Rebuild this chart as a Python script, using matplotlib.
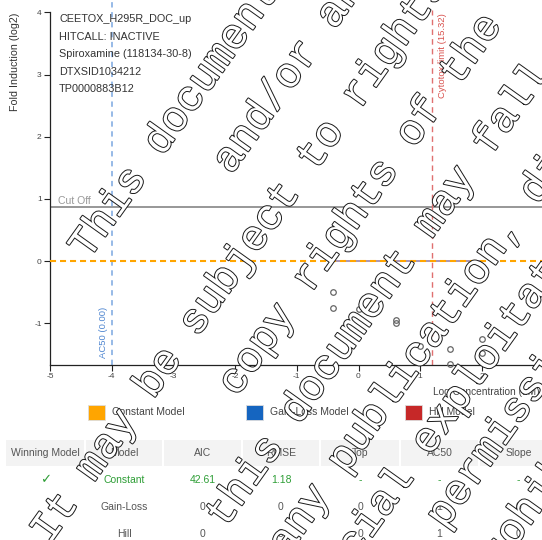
import matplotlib
matplotlib.use("Agg")
import matplotlib.pyplot as plt
import matplotlib.patheffects as pe
from matplotlib.patches import Rectangle
import numpy as np

W, H = 542, 540

# ---------------- data ----------------
log_conc = [-0.41, -0.41, 0.0, 0.60, 0.60, 1.0, 1.48, 1.48, 2.0, 2.0]
response = [-0.49, -0.76, -0.775, -0.94, -1.0, -1.36, -1.42, -1.66, -1.26, -1.48]
cutoff = 0.87
constant_level = 0.0
ac50_log = -4.0
ac50_label = "AC50 (0.00)"
cytotox_um = 15.32
cytotox_label = "Cytotox limit (15.32)"
xticks = [-5, -4, -3, -2, -1, 0, 1, 2]
yticks = [-1, 0, 1, 2, 3, 4]
info_lines = ["CEETOX_H295R_DOC_up", "HITCALL: INACTIVE",
              "Spiroxamine (118134-30-8)", "DTXSID1034212", "TP0000883B12"]
legend_labels = ["Constant Model", "Gain-Loss Model", "Hill Model"]
legend_colors = ["#FFA500", "#1565C0", "#C62828"]
table_header = ["Winning Model", "Model", "AIC", "RMSE", "Top", "AC50", "Slope"]
table_rows = [["\u2713", "Constant", "42.61", "1.18", "-", "-", "-"],
              ["", "Gain-Loss", "0", "0", "0", "1", "0"],
              ["", "Hill", "0", "0", "0", "1", "0"]]
winning_row = 0
watermark_lines = [
    "This document is the property of Bayer AG",
    "and/or any of its affiliates.",
    "It may be subject to rights such as intellectual property and",
    "copy rights of the owner and third parties.",
    "Furthermore, this document may fall under a regulatory data protection regime.",
    "Consequently, any publication, distribution, reproduction and/or publishing and",
    "any commercial exploitation and use of this document or its contents",
    "without the permission of the owner of this document may therefore",
    "be prohibited and violate the rights of its owner.",
]

plt.rcParams["font.family"] = ["Liberation Sans", "DejaVu Sans"]

fig = plt.figure(figsize=(W / 100, H / 100), dpi=100)
fig.patch.set_facecolor("white")


def fx(px):
    return px / W


def fy(py):
    return 1 - py / H


# ---------------- chart ----------------
ax = fig.add_axes([fx(50), fy(365), (543.6 - 50) / W, 352.7 / H])
ax.set_xlim(-5, 3)
ax.set_ylim(-1.67, 4)
for s in ["top", "right"]:
    ax.spines[s].set_visible(False)
for s in ["left", "bottom"]:
    ax.spines[s].set_color("#222222")
    ax.spines[s].set_linewidth(0.9)
ax.set_xticks(xticks)
ax.set_yticks(yticks)
ax.set_xticklabels([str(t) for t in xticks])
ax.set_yticklabels([str(t) for t in yticks])
ax.tick_params(axis="both", direction="out", length=4.2, width=0.8,
               color="#222222", labelsize=6, labelcolor="#444444")
ax.tick_params(axis="y", pad=1.8)
ax.tick_params(axis="x", pad=1.5)

# cut off
ax.axhline(cutoff, color="#7a7a7a", lw=1.1, zorder=2)
ax.text(-4.87, cutoff + 0.02, "Cut Off", color="#999999", fontsize=7.6,
        va="bottom", ha="left")

# model curves at zero over data range
cmin, cmax = min(log_conc), max(log_conc)
ax.plot([cmin, cmax], [0, 0], color=legend_colors[2], lw=1.2, alpha=0.45, zorder=2)
ax.plot([cmin, cmax], [0, 0], color=legend_colors[1], lw=1.2, alpha=0.35, zorder=2)
# constant model
ax.axhline(constant_level, color="#FFA500", lw=1.5, ls=(0, (2.9, 1.9)), zorder=3)

# ac50 line
ax.plot([ac50_log, ac50_log], [-1.67, 4.2], color="#7BA7E0", lw=1.1,
        ls=(0, (3.5, 3)), clip_on=False, zorder=2)
ax.text(ac50_log - 0.135, -1.56, ac50_label, rotation=90, color="#4F86D0",
        fontsize=6.8, ha="center", va="bottom")
# cytotox line
cx = np.log10(cytotox_um)
ax.plot([cx, cx], [-1.67, 4.03], color="#E07070", lw=1.0,
        ls=(0, (4, 3)), clip_on=False, zorder=2)
ax.text(cx + 0.17, 3.99, cytotox_label, rotation=90, color="#D9534F",
        fontsize=6.8, ha="center", va="top")

# data points
ax.plot(log_conc, response, "o", ms=4.0, mfc="none", mec="#666666", mew=0.9,
        zorder=4, clip_on=False)

# info text
for i, line in enumerate(info_lines):
    fig.text(fx(59), fy(19.3 + 17.5 * i), line, fontsize=7.8, color="#333333",
             ha="left", va="center")

# axis labels
fig.text(fx(15), fy(61.5), "Fold Induction (log2)", rotation=90, fontsize=7.7,
         color="#333333", ha="center", va="center")
fig.text(fx(433), fy(392), "Log Concentration (uM)", fontsize=7.3,
         color="#444444", ha="left", va="center")

# ---------------- legend ----------------
leg_x = [88, 246, 405]
for x0, lab, col in zip(leg_x, legend_labels, legend_colors):
    fig.patches.append(Rectangle((fx(x0), fy(419.5)), 16.5 / W, 15 / H,
                                 transform=fig.transFigure, facecolor=col,
                                 edgecolor="#dddddd", lw=0.6))
    fig.text(fx(x0 + 24), fy(412), lab, fontsize=7.5, color="#444444",
             ha="left", va="center")

# ---------------- table ----------------
col_edges = [6, 85, 163, 242, 320, 400, 479, 558]
fig.patches.append(Rectangle((fx(6), fy(466)), (542 - 6) / W, 26 / H,
                             transform=fig.transFigure, facecolor="#f3f3f3",
                             edgecolor="none"))
for e in col_edges[1:-1]:
    fig.patches.append(Rectangle((fx(e - 1), fy(466)), 2 / W, 26 / H,
                                 transform=fig.transFigure, facecolor="white",
                                 edgecolor="none"))
centers = [(a + b) / 2 for a, b in zip(col_edges[:-1], col_edges[1:])]
for c, h in zip(centers, table_header):
    fig.text(fx(c), fy(453), h, fontsize=7.5, color="#555555",
             ha="center", va="center")
row_y = [480, 507.5, 534.3]
for r, (ry, row) in enumerate(zip(row_y, table_rows)):
    color = "#2E9E36" if r == winning_row else "#555555"
    for c, val in zip(centers, row):
        if not val:
            continue
        if val == "\u2713":
            fig.text(fx(c), fy(ry), val, fontsize=9.5, color=color,
                     ha="center", va="center", family=["DejaVu Sans"])
        else:
            fig.text(fx(c), fy(ry), val, fontsize=7.5, color=color,
                     ha="center", va="center")

# ---------------- watermark ----------------
theta = np.deg2rad(54.5)
uvec = np.array([np.cos(theta), -np.sin(theta)])
nvec = np.array([np.sin(theta), np.cos(theta)])
adv = 25.4
u_center = 360.0
n_centers = [213.2, 280.0, 346.8, 413.6, 480.4, 547.2, 605.0, 660.0, 727.0]
for line, nc in zip(watermark_lines, n_centers):
    u0 = u_center - len(line) * adv / 2
    p = nvec * (nc + 10.0) + uvec * u0
    t = fig.text(fx(p[0]), fy(p[1]), line, rotation=54.5, rotation_mode="anchor",
                 ha="left", va="baseline", fontsize=30.5,
                 family=["Liberation Mono"], color="white", zorder=10)
    t.set_path_effects([pe.withStroke(linewidth=1.4, foreground="#1a1a1a")])

fig.savefig("out.png", dpi=100)
